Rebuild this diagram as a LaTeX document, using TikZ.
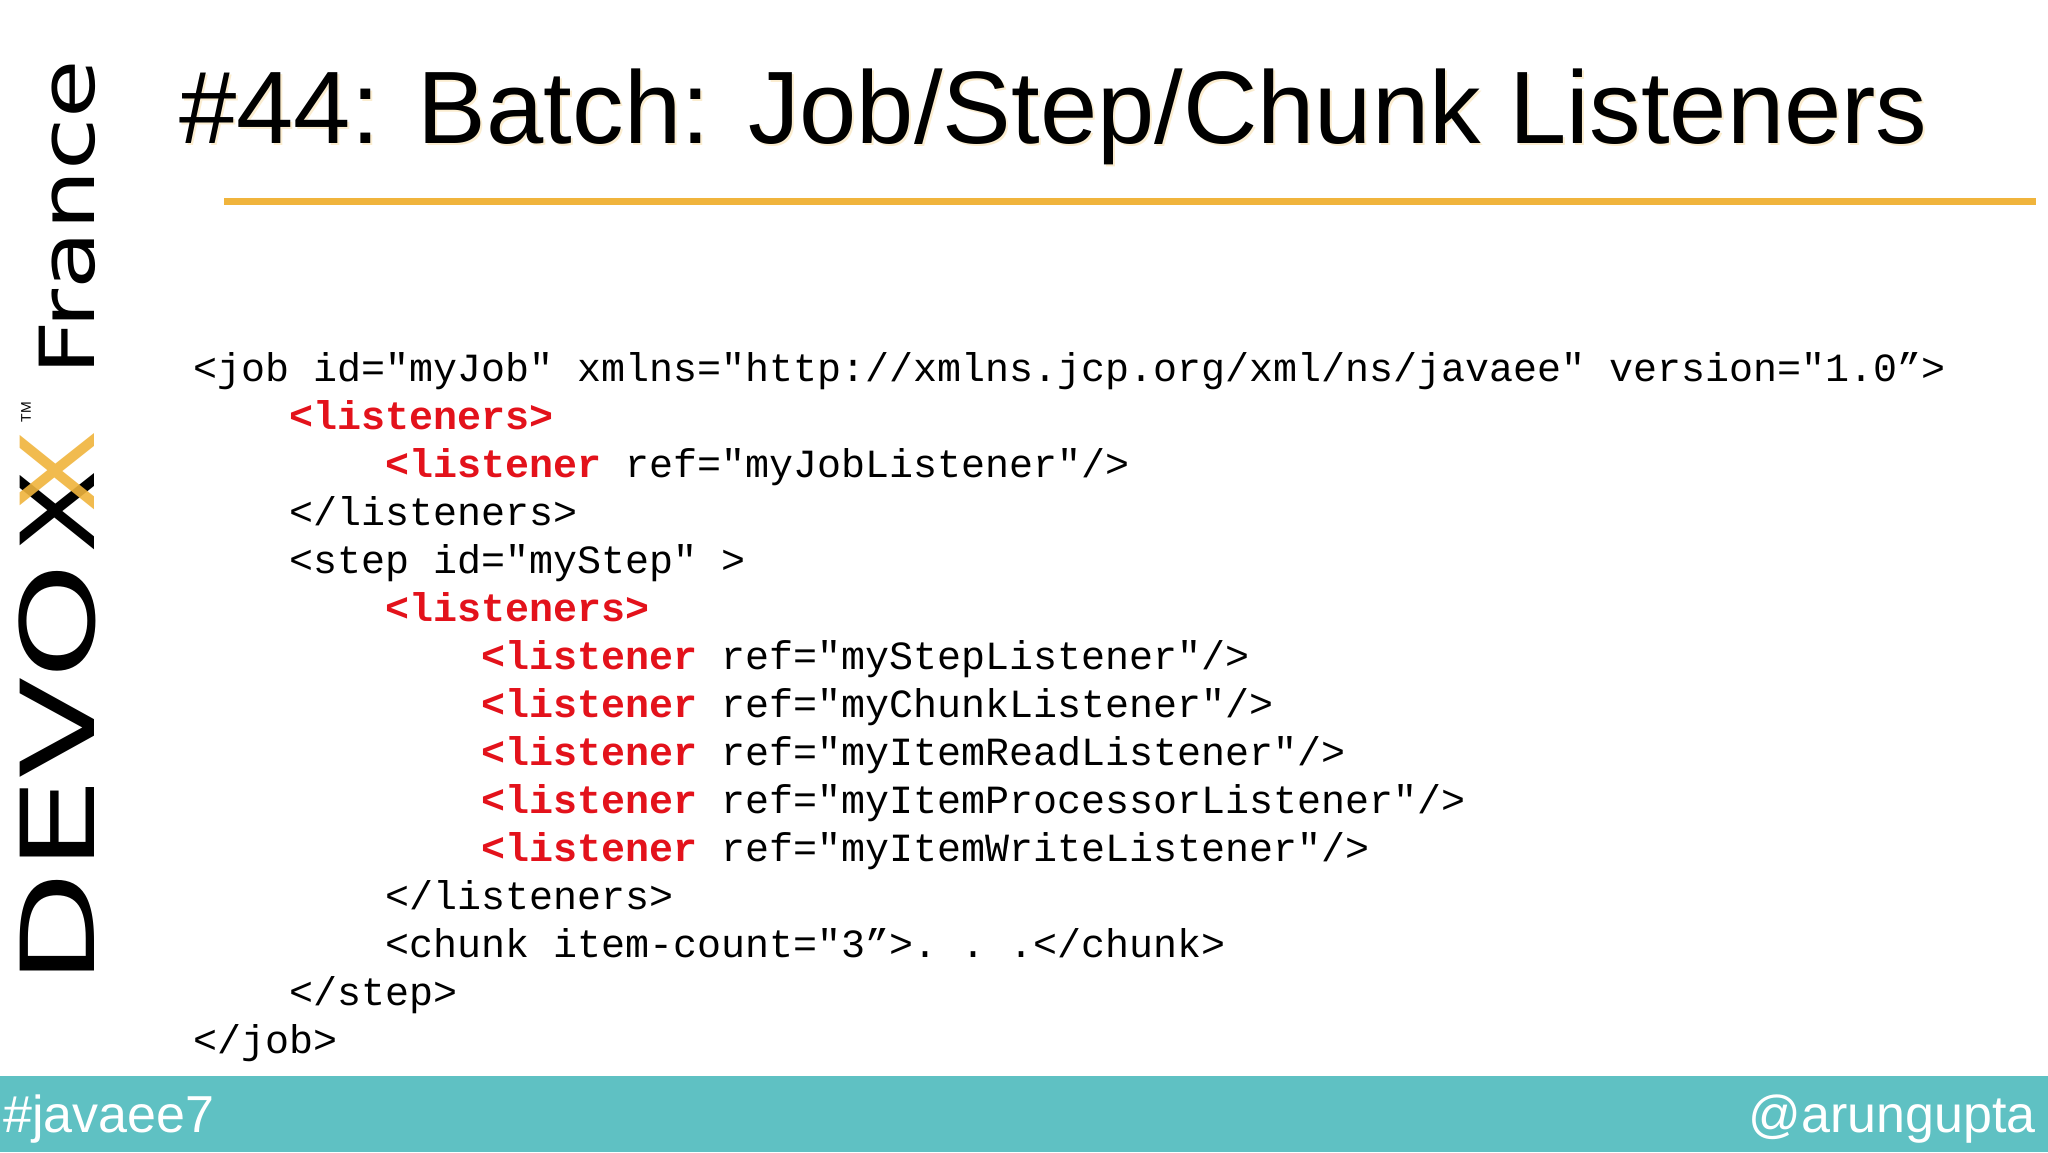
\documentclass[tikz,border=0pt]{standalone}
\usepackage{fontspec}
\setmainfont{Liberation Sans}
\setmonofont{Liberation Mono}
\newfontfamily\logofont{DejaVu Sans}
\definecolor{tagred}{HTML}{E3121B}
\definecolor{barteal}{HTML}{5FC1C3}
\definecolor{devorange}{HTML}{F0B43C}
\begin{document}
\begin{tikzpicture}[x=1pt,y=1pt,
  code/.style={anchor=base west,inner sep=0pt,font=\ttfamily\fontsize{20}{24}\selectfont},
  tag/.style={text=tagred,font=\ttfamily\bfseries\fontsize{20}{24}\selectfont},
  logo/.style={rotate=90,inner sep=0pt,font=\logofont\fontsize{51}{51}\selectfont}]
\useasboundingbox (0,0) rectangle (1024,-576);
\fill[white] (0,0) rectangle (1024,-576);
% title
\node[anchor=base west,inner sep=0pt,font=\fontsize{51.5}{60}\selectfont,text=devorange!40,opacity=0.6] at (90.5,-72.8) {\#44: Batch: Job/Step/Chunk Listeners};
\node (title) [anchor=base west,inner sep=0pt,font=\fontsize{51.5}{60}\selectfont] at (89.5,-71.8) {\#44: Batch: Job/Step/Chunk Listeners};
\draw[devorange,line width=3.3pt] (112,-100.6) -- (1018,-100.6);
% code
\def\xa{96.7}\def\dx{48}\def\yy{-190.7}\def\dy{24}
\node (l1) [code] at (\xa,\yy) {<job id="myJob" xmlns="http://xmlns.jcp.org/xml/ns/javaee" version="1.0”>};
\node (l2) [code,tag] at (\xa+\dx,\yy-\dy) {<listeners>};
\node (l3) [code] at (\xa+2*\dx,\yy-2*\dy) {{\color{tagred}\bfseries <listener} ref="myJobListener"/>};
\node (l4) [code] at (\xa+\dx,\yy-3*\dy) {</listeners>};
\node (l5) [code] at (\xa+\dx,\yy-4*\dy) {<step id="myStep" >};
\node (l6) [code,tag] at (\xa+2*\dx,\yy-5*\dy) {<listeners>};
\node (l7) [code] at (\xa+3*\dx,\yy-6*\dy) {{\color{tagred}\bfseries <listener} ref="myStepListener"/>};
\node (l8) [code] at (\xa+3*\dx,\yy-7*\dy) {{\color{tagred}\bfseries <listener} ref="myChunkListener"/>};
\node (l9) [code] at (\xa+3*\dx,\yy-8*\dy) {{\color{tagred}\bfseries <listener} ref="myItemReadListener"/>};
\node (l10) [code] at (\xa+3*\dx,\yy-9*\dy) {{\color{tagred}\bfseries <listener} ref="myItemProcessorListener"/>};
\node (l11) [code] at (\xa+3*\dx,\yy-10*\dy) {{\color{tagred}\bfseries <listener} ref="myItemWriteListener"/>};
\node (l12) [code] at (\xa+2*\dx,\yy-11*\dy) {</listeners>};
\node (l13) [code] at (\xa+2*\dx,\yy-12*\dy) {<chunk item-count="3”>. . .</chunk>};
\node (l14) [code] at (\xa+\dx,\yy-13*\dy) {</step>};
\node (l15) [code] at (\xa,\yy-14*\dy) {</job>};
% logo
\node (devo) [logo,anchor=base west] at (47,-493) {\scalebox{1.45}[1]{DEVO}};
\node (xb) [logo,anchor=base] at (47,-256) {\scalebox{1.2}[1]{X}};
\node (xo) [logo,anchor=base,text=devorange,opacity=0.9] at (47,-236) {\scalebox{1.2}[1]{X}};
\node (tm) [rotate=90,inner sep=0pt,font=\fontsize{7}{7}\selectfont] at (13,-206) {TM};
\node (france) [rotate=90,anchor=base,inner sep=0pt,font=\logofont\fontsize{38}{38}\selectfont] at (47,-109) {\scalebox{1.25}[1]{France}};
% bottom bar
\fill[barteal] (0,-538) rectangle (1024,-576);
\node (hash) [anchor=base west,inner sep=0pt,font=\fontsize{26}{26}\selectfont,text=white] at (1.5,-566) {\#javaee7};
\node (handle) [anchor=base east,inner sep=0pt,font=\fontsize{26}{26}\selectfont,text=white] at (1018,-566) {@arungupta};
\end{tikzpicture}
\end{document}
